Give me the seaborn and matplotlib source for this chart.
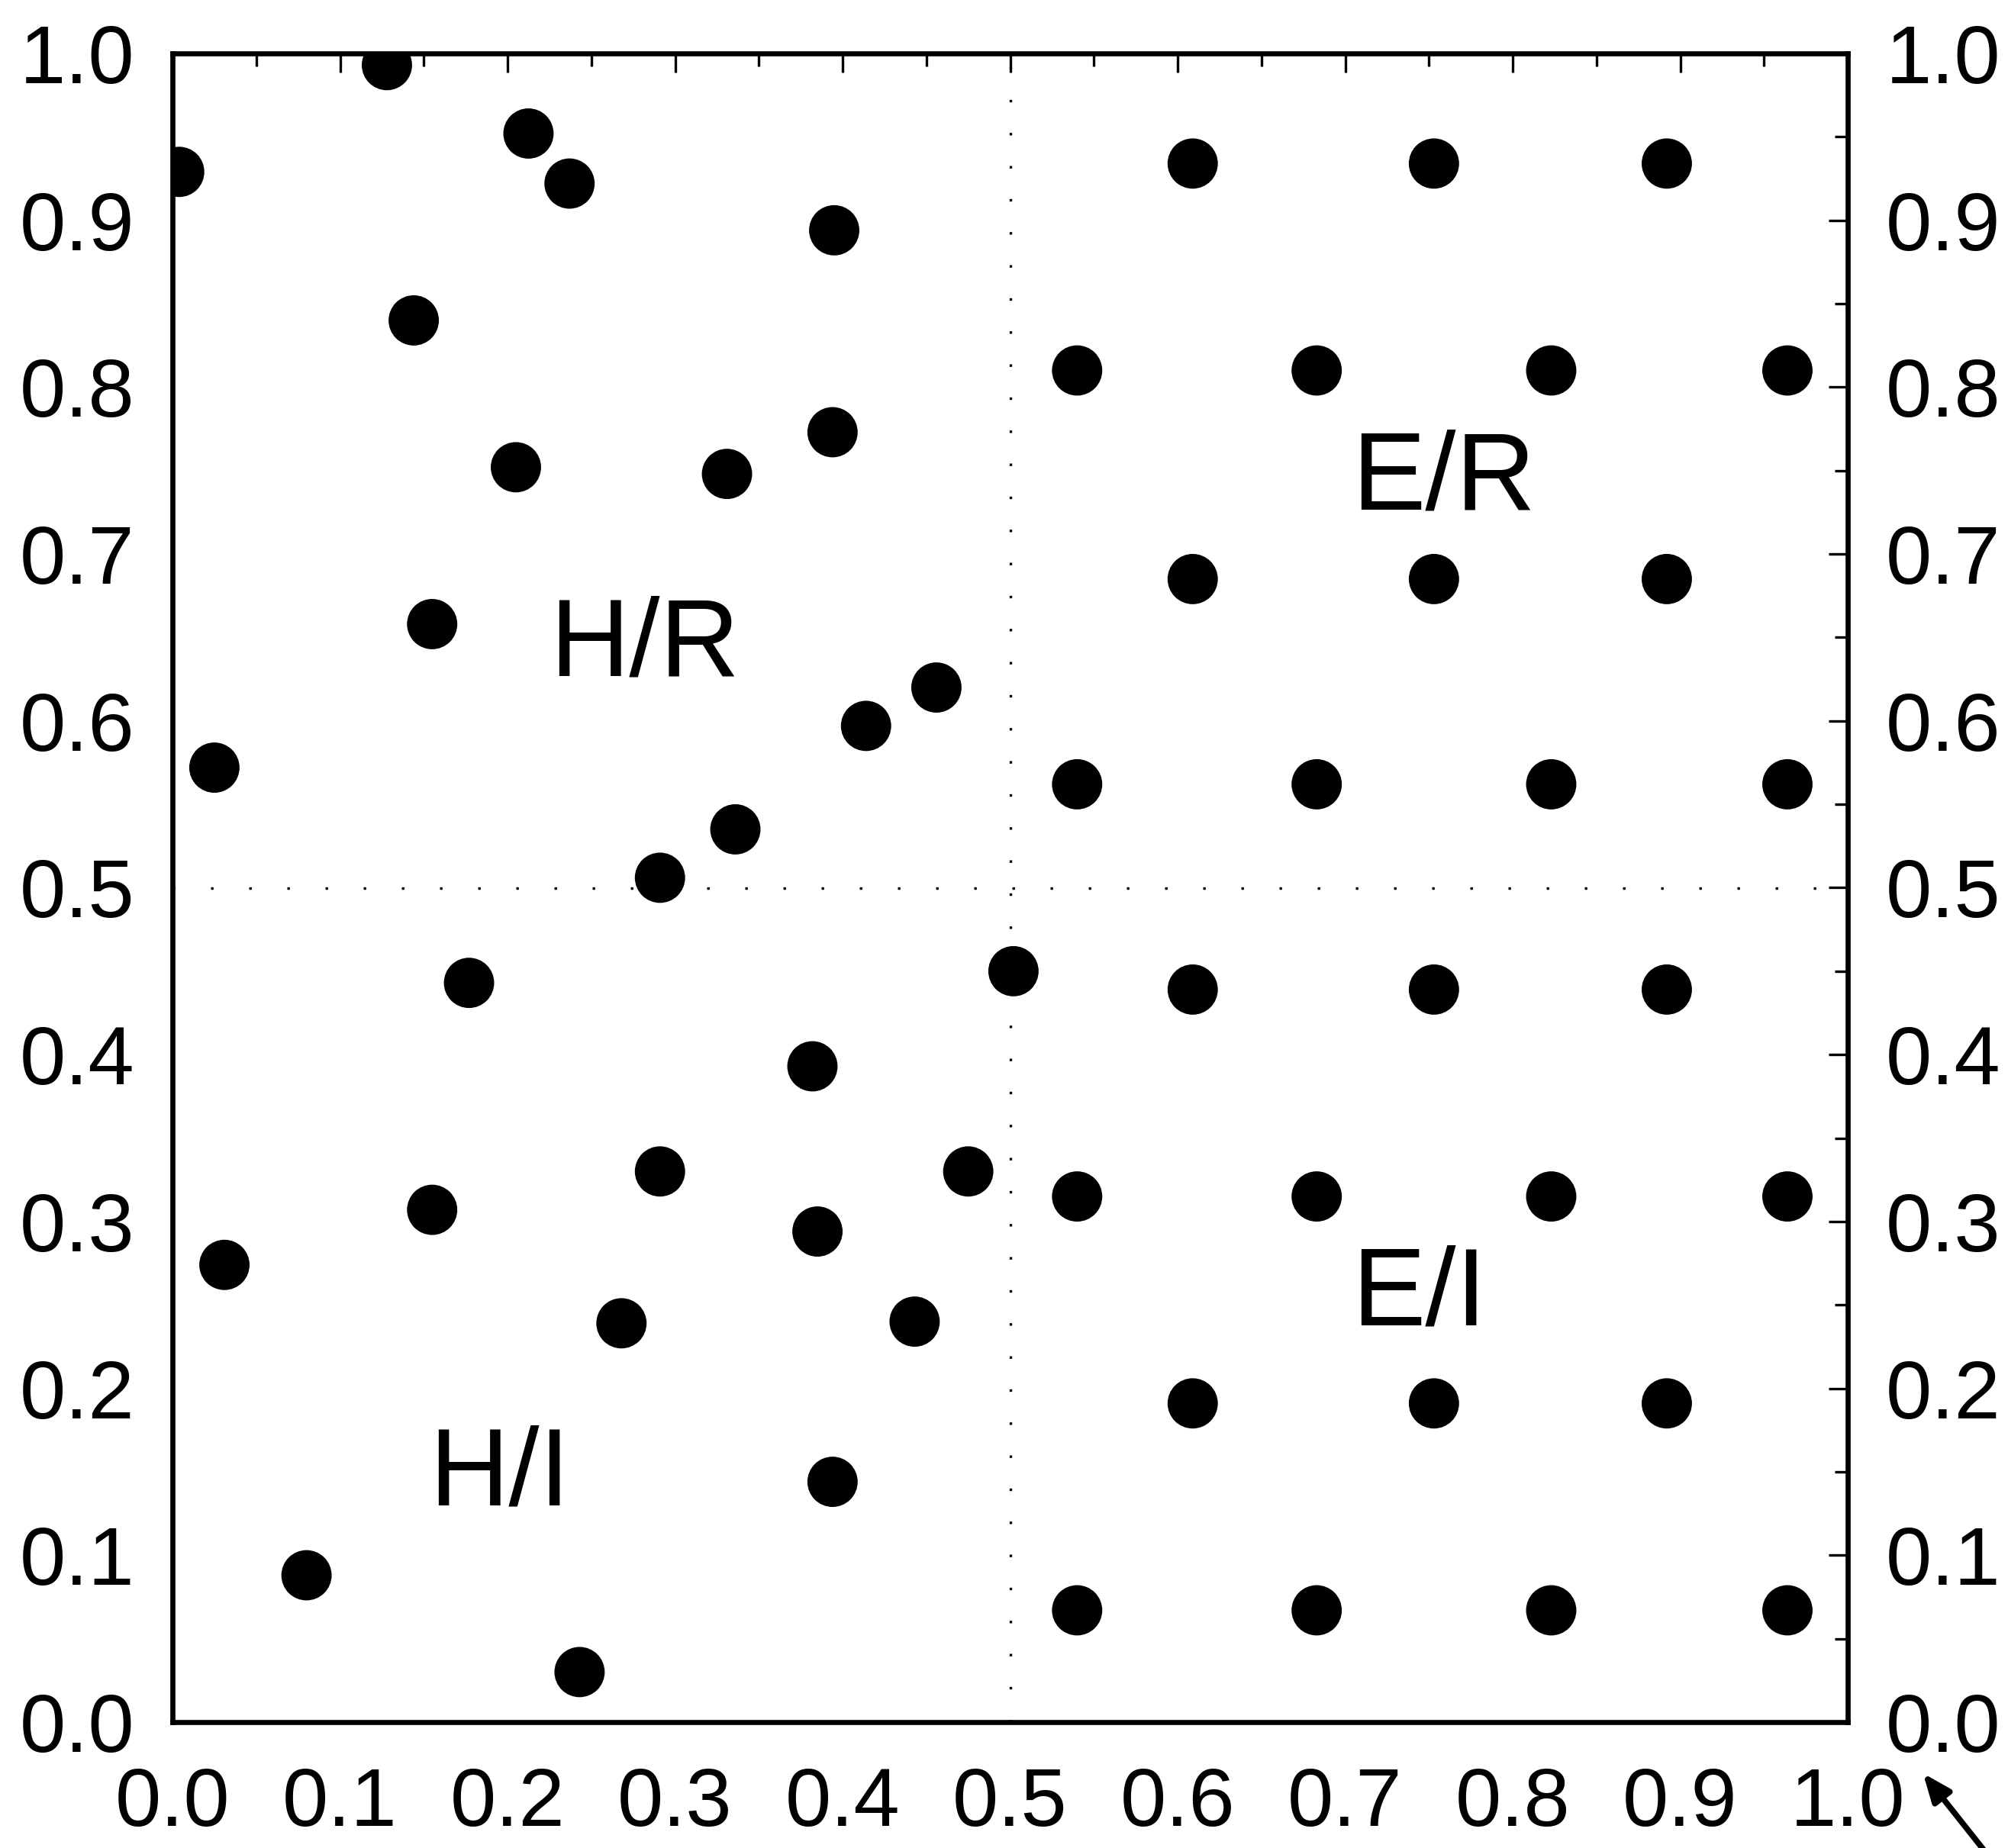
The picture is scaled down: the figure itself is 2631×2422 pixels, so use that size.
import pandas as pd
import matplotlib
matplotlib.use("Agg")
import matplotlib.pyplot as plt
import seaborn as sns
from matplotlib import font_manager
from matplotlib.ticker import MultipleLocator, FormatStrFormatter

# points, one list pair per quadrant
hr_x = [0.128, 0.004, 0.2125, 0.237, 0.395, 0.144, 0.394, 0.205, 0.331, 0.155,
        0.456, 0.414, 0.025, 0.336, 0.291]
hr_y = [0.993, 0.929, 0.952, 0.922, 0.894, 0.840, 0.773, 0.752, 0.748, 0.658,
        0.620, 0.597, 0.572, 0.535, 0.506]

hi_x = [0.177, 0.502, 0.382, 0.475, 0.291, 0.155, 0.385, 0.031, 0.268, 0.443,
        0.394, 0.080, 0.243]
hi_y = [0.443, 0.450, 0.393, 0.330, 0.330, 0.307, 0.294, 0.274, 0.239, 0.240,
        0.144, 0.088, 0.030]

er_x = [0.609, 0.753, 0.892,
        0.540, 0.683, 0.823, 0.964,
        0.609, 0.753, 0.892,
        0.540, 0.683, 0.823, 0.964]
er_y = [0.934, 0.934, 0.934,
        0.810, 0.810, 0.810, 0.810,
        0.685, 0.685, 0.685,
        0.562, 0.562, 0.562, 0.562]

ei_x = [0.609, 0.753, 0.892,
        0.540, 0.683, 0.823, 0.964,
        0.609, 0.753, 0.892,
        0.540, 0.683, 0.823, 0.964]
ei_y = [0.439, 0.439, 0.439,
        0.315, 0.315, 0.315, 0.315,
        0.191, 0.191, 0.191,
        0.067, 0.067, 0.067, 0.067]

quad_labels = ["H/R", "E/R", "E/I", "H/I"]
label_x = [0.282, 0.759, 0.744, 0.195]
label_y = [0.627, 0.727, 0.238, 0.130]

sns.set_style("white")
names = {f.name for f in font_manager.fontManager.ttflist}
if "Liberation Sans Narrow" in names:
    tick_font, tick_size = "Liberation Sans Narrow", 88
else:
    tick_font, tick_size = "Liberation Sans", 78
plt.rcParams["font.family"] = ["Liberation Sans", "DejaVu Sans"]
plt.rcParams["text.color"] = "black"
plt.rcParams["xtick.color"] = "black"
plt.rcParams["ytick.color"] = "black"


def main():
    df = pd.DataFrame({
        "x": hr_x + hi_x + er_x + ei_x,
        "y": hr_y + hi_y + er_y + ei_y,
    })

    fig = plt.figure(figsize=(26.31, 24.22), dpi=100)
    ax = fig.add_axes([226 / 2631, 1 - 2257 / 2422, 2195 / 2631, 2187 / 2422])

    sns.scatterplot(data=df, x="x", y="y", ax=ax, color="black", s=2250,
                    edgecolor="none", linewidth=0, legend=False)

    # quadrant dividers
    ax.axvline(0.5, color="black", lw=2.4, linestyle=(0, (1, 12)))
    ax.axhline(0.5, color="black", lw=2.4, linestyle=(0, (1, 14)))

    for t, lx, ly in zip(quad_labels, label_x, label_y):
        ax.text(lx, ly, t, fontsize=104, ha="center", va="baseline",
                family="Liberation Sans", color="black")

    ax.set_xlim(0, 1)
    ax.set_ylim(0, 1)
    ax.set_xlabel("")
    ax.set_ylabel("")
    for axis in (ax.xaxis, ax.yaxis):
        axis.set_major_locator(MultipleLocator(0.1))
        axis.set_minor_locator(MultipleLocator(0.05))
        axis.set_major_formatter(FormatStrFormatter("%.1f"))

    ax.tick_params(which="both", direction="in", top=True, right=True,
                   labelright=True, labeltop=False, color="black",
                   labelcolor="black", width=2.4)
    ax.tick_params(which="major", length=18)
    ax.tick_params(which="minor", length=12)
    ax.tick_params(axis="y", pad=36)
    ax.tick_params(axis="x", pad=42)
    for lab in ax.get_xticklabels() + ax.get_yticklabels():
        lab.set_fontfamily(tick_font)
        lab.set_fontsize(tick_size)
    for sp in ax.spines.values():
        sp.set_linewidth(4.8)
        sp.set_color("black")
        sp.set_visible(True)

    # small arrow in the lower right corner
    ax.annotate("", xy=(2518, 100), xycoords="figure pixels",
                xytext=(2602, -6), textcoords="figure pixels",
                arrowprops=dict(arrowstyle="-|>,head_length=2.2,head_width=0.9",
                                color="black", lw=5.5),
                annotation_clip=False)

    fig.savefig("out.png", dpi=100, facecolor="white")


if __name__ == "__main__":
    main()
